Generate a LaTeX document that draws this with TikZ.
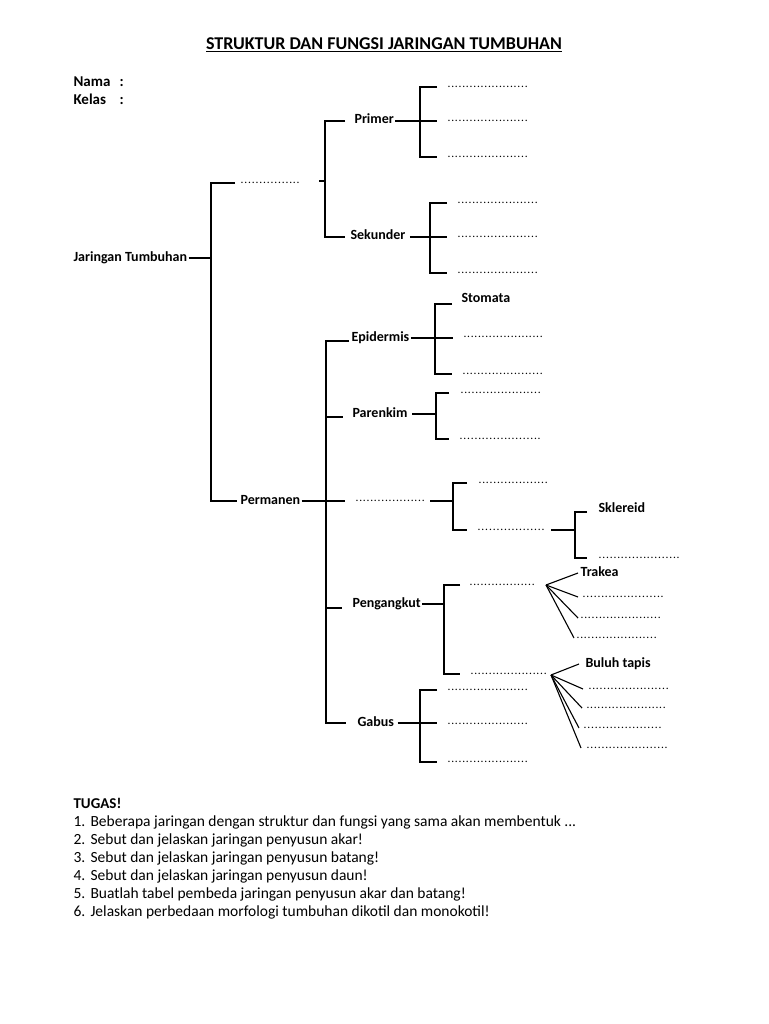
\documentclass[tikz,border=0pt]{standalone}
\usepackage{fontspec}
\setmainfont{Carlito}
\usetikzlibrary{positioning}
% dotted blank to be filled in
\newcommand{\titik}[1]{{\mdseries\fontsize{11.5}{12}\selectfont\hbox to #1pt{\xleaders\hbox{.\kern0.7pt}\hfill}}}

\begin{document}
\begin{tikzpicture}[x=1pt, y=-1pt, line width=1.1pt,
  font=\fontsize{14}{16}\selectfont\bfseries,
  every node/.style={inner sep=1pt},
  lbl/.style={anchor=west, text height=9pt, text depth=3pt},
  isi/.style={anchor=west, inner sep=0pt},
  kepala/.style={anchor=base west, font=\fontsize{15}{17}\selectfont\bfseries},
  tugas/.style={anchor=base west, font=\fontsize{15.5}{17}\selectfont}]
\useasboundingbox (0,0) rectangle (768,1024);
% --- header ---
\node[font=\fontsize{18}{20}\selectfont\bfseries] (judul) at (384,45) {\underline{STRUKTUR DAN FUNGSI JARINGAN TUMBUHAN}};
\node[kepala] (nama) at (72,87) {Nama};
\node[kepala] at (118,87) {:};
\node[kepala] (kelas) at (72,105) {Kelas};
\node[kepala] at (118,105) {:};
% --- root ---
\node[lbl] (jt) at (72,258) {Jaringan Tumbuhan};
\node[isi] (d0) at (240,183) {\titik{60}};
\node[lbl] (perm) at (239,501) {Permanen};
\coordinate (hubR) at (211,258);
\draw (jt.east) -- (jt.east -| hubR);
\draw ([xshift=-5pt]d0.west) -| (hubR) |- ([xshift=-2pt]perm.west);
% --- meristem ---
\coordinate (hubM) at (325,181);
\node[lbl] (primer) at (353,121) {Primer};
\node[lbl] (sekunder) at (349,237) {Sekunder};
\draw ([xshift=-6pt]hubM) -- (hubM);
\draw ([xshift=-8pt]primer.west) -| (hubM) |- ([xshift=-4pt]sekunder.west);
\foreach \n/\x/\y in {p1/447/87, p2/447/121, p3/447/157, s1/457/203, s2/457/237, s3/457/273}
  \node[isi] (\n) at (\x,\y) {\titik{81}};
\coordinate (hubP) at (420,121);
\draw ([xshift=-10pt]p1.west) -| (hubP) |- ([xshift=-10pt]p3.west);
\draw (primer.east) -- ([xshift=-10pt]primer.east -| p2.west);
\coordinate (hubS) at (430,237);
\draw ([xshift=-10pt]s1.west) -| (hubS) |- ([xshift=-10pt]s3.west);
\draw ([xshift=3pt]sekunder.east) -- ([xshift=-10pt]sekunder.east -| s2.west);
% --- permanen ---
\node[lbl] (epi) at (350,338) {Epidermis};
\node[lbl] (par) at (351,414) {Parenkim};
\node[isi] (dm) at (355,501) {\titik{70}};
\node[lbl] (peng) at (351,604) {Pengangkut};
\node[lbl] (gabus) at (356,723) {Gabus};
\coordinate (hubQ) at (326,503);
\draw ([xshift=-1pt,yshift=-3pt]epi.west) -| (hubQ) |- ([xshift=-10pt]gabus.west);
\draw ([yshift=-3pt]hubQ |- par.west) -- ([xshift=-8pt,yshift=-3pt]par.west);
\draw ([yshift=-4pt]hubQ |- peng.west) -- ([xshift=-9pt,yshift=-4pt]peng.west);
\draw (perm.east) -- ([xshift=-10pt]perm.east -| dm.west);
% epidermis
\node[lbl] (stomata) at (460,299) {Stomata};
\node[isi] (e2) at (463,337) {\titik{80}};
\node[isi] (e3) at (462,374) {\titik{81}};
\coordinate (hubE) at (435,337);
\draw ([xshift=-8pt,yshift=-5pt]stomata.west) -| (hubE) |- ([xshift=-10pt]e3.west);
\draw (epi.east) -- ([xshift=-10pt]epi.east -| e2.west);
% parenkim
\node[isi] (r1) at (460,393) {\titik{81}};
\node[isi] (r2) at (459,439) {\titik{82}};
\coordinate (hubA) at (436,412);
\draw ([xshift=-11pt]r1.west) -| (hubA) |- ([xshift=-10pt]r2.west);
\draw ([xshift=3pt]par.east) -- (par.east -| hubA);
% sklerenkim
\node[isi] (t1) at (478,483) {\titik{70}};
\node[isi] (t2) at (477,530) {\titik{68}};
\coordinate (hubT) at (453,503);
\draw ([xshift=-11pt]t1.west) -| (hubT) |- ([xshift=-10pt]t2.west);
\draw ([xshift=4pt]perm.east -| dm.east) -- (perm.east -| hubT);
\node[lbl] (skl) at (597,509) {Sklereid};
\node[isi] (k2) at (598,558) {\titik{82}};
\coordinate (hubK) at (575,530);
\draw ([xshift=-10pt,yshift=-3pt]skl.west) -| (hubK) |- ([xshift=-11pt]k2.west);
\draw ([xshift=5pt]t2.east) -- (t2.east -| hubK);
% pengangkut
\node[isi] (g1) at (469,585) {\titik{66}};
\node[isi] (g2) at (470,674) {\titik{77}};
\coordinate (hubG) at (444,604);
\draw ([xshift=-9pt]g1.west) -| (hubG) |- ([xshift=-10pt]g2.west);
\draw (peng.east) -- (peng.east -| hubG);
\node[lbl] (trakea) at (579,573) {Trakea};
\node[isi] (tr1) at (582,597) {\titik{82}};
\node[isi] (tr2) at (580,618) {\titik{81}};
\node[isi] (tr3) at (576,638) {\titik{81}};
\coordinate (fanA) at (546,585);
\foreach \n/\s in {trakea/1, tr1/4, tr2/2, tr3/2}
  \draw (fanA) -- ([xshift=-\s pt]\n.west);
\node[lbl] (buluh) at (584,664) {Buluh tapis};
\foreach \n/\x/\y/\w in {bt1/588/689/81, bt2/586/708/80, bt3/583/728/79, bt4/586/748/82}
  \node[isi] (\n) at (\x,\y) {\titik{\w}};
\coordinate (fanB) at (551,675);
\foreach \n/\s in {buluh/5, bt1/5, bt2/4, bt3/4, bt4/5}
  \draw (fanB) -- ([xshift=-\s pt]\n.west);
% gabus
\foreach \n/\y in {gb1/690, gb2/724, gb3/762}
  \node[isi] (\n) at (447,\y) {\titik{81}};
\coordinate (hubB) at (420,724);
\draw ([xshift=-10pt]gb1.west) -| (hubB) |- ([xshift=-10pt]gb3.west);
\draw ([xshift=2pt]gabus.east) -- ([xshift=-10pt]gabus.east -| gb2.west);
% --- tugas ---
\node[kepala] (tg) at (72,808) {TUGAS!};
\foreach \i/\t in {1/{Beberapa jaringan dengan struktur dan fungsi yang sama akan membentuk ...},
  2/{Sebut dan jelaskan jaringan penyusun akar!},
  3/{Sebut dan jelaskan jaringan penyusun batang!},
  4/{Sebut dan jelaskan jaringan penyusun daun!},
  5/{Buatlah tabel pembeda jaringan penyusun akar dan batang!},
  6/{Jelaskan perbedaan morfologi tumbuhan dikotil dan monokotil!}}{
  \node[tugas] (no\i) at (72,808+18*\i) {\i.};
  \node[tugas] (tg\i) at (89,808+18*\i) {\t};
}
\end{tikzpicture}
\end{document}
